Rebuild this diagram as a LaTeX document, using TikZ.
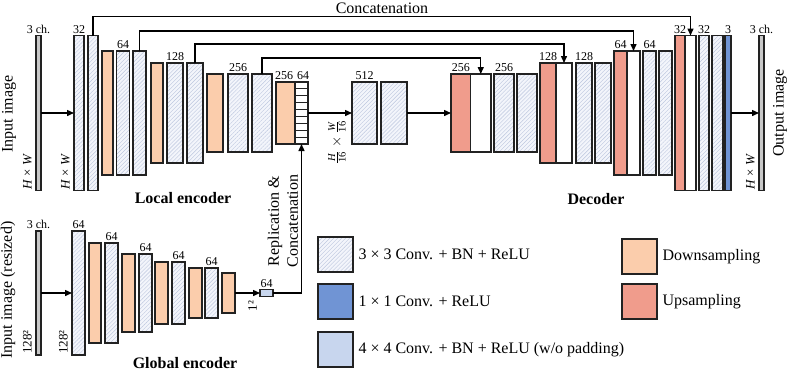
\documentclass[tikz,border=0pt]{standalone}
\usepackage{amsmath}
\usepackage{fontspec}
\setmainfont{Liberation Serif}
\usetikzlibrary{arrows.meta, positioning, patterns.meta}
\definecolor{netdown}{HTML}{FBCDAC}
\definecolor{netup}{HTML}{F09C8C}
\definecolor{netone}{HTML}{7094D4}
\definecolor{netfour}{HTML}{C8D6EE}
\definecolor{netconv}{HTML}{F3F5FB}
\definecolor{nethatch}{HTML}{BCC6DE}
\definecolor{netimg}{HTML}{C8C8C8}
\definecolor{netline}{HTML}{222222}

\begin{document}
\begin{tikzpicture}[x=1pt, y=-1pt,
  blk/.style={draw=netline, line width=1.1pt, inner sep=0pt, outer sep=0pt},
  wd/.style={minimum width=#1},
  lv1/.style={minimum height=155pt},
  lv2/.style={minimum height=124pt},
  lv3/.style={minimum height=100pt},
  lv4/.style={minimum height=78pt},
  lv5/.style={minimum height=62pt},
  lv6/.style={minimum height=50pt},
  lv7/.style={minimum height=40pt},
  conv/.style={blk, preaction={fill=netconv},
    pattern={Lines[angle=45, distance=2.8pt, line width=0.4pt]}, pattern color=nethatch},
  dsmp/.style={blk, fill=netdown},
  usmp/.style={blk, fill=netup},
  cat/.style={blk, fill=white},
  one/.style={blk, fill=netone},
  four/.style={blk, fill=netfour},
  img/.style={blk, fill=netimg},
  lab/.style={font=\fontsize{12}{12}\selectfont, inner sep=1pt},
  dim/.style={font=\fontsize{13}{13}\selectfont, inner sep=1pt, rotate=90},
  big/.style={font=\fontsize{16}{19}\selectfont},
  ttl/.style={font=\fontsize{16}{19}\selectfont\bfseries},
  arr/.style={line width=1.4pt, -{Triangle[length=7pt, width=6pt]}}]
  \useasboundingbox (0,0) rectangle (789,370);

  \node[img, lv1, wd=5pt] (inimg) at (38.5,113) {};
  \node[conv, lv1, wd=10pt] (e1a) at (79,113) {};
  \node[conv, lv1, wd=10pt] (e1b) at (93,113) {};
  \node[dsmp, lv2, wd=11pt] (d1) at (107.5,113) {};
  \node[conv, lv2, wd=12.5pt] (e2a) at (123,113) {};
  \node[conv, lv2, wd=13pt] (e2b) at (139.5,113) {};
  \node[dsmp, lv3, wd=12pt] (d2) at (157,113) {};
  \node[conv, lv3, wd=16pt] (e3a) at (175,113) {};
  \node[conv, lv3, wd=16pt] (e3b) at (195,113) {};
  \node[dsmp, lv4, wd=16pt] (d3) at (215,113) {};
  \node[conv, lv4, wd=20pt] (e4a) at (238,113) {};
  \node[conv, lv4, wd=20pt] (e4b) at (262,113) {};
  \node[dsmp, lv5, wd=19pt] (d4) at (285.5,113) {};
  \node[cat, lv5, wd=13pt] (grid) at (301.5,113) {};
  \foreach \k in {1,...,8}
    \draw[line width=0.8pt, netline] ([yshift=-\k*6.89pt]grid.north west) -- ([yshift=-\k*6.89pt]grid.north east);
  \node[conv, lv5, wd=25pt] (b1) at (364.5,113) {};
  \node[conv, lv5, wd=26pt] (b2) at (394,113) {};
  \node[usmp, lv4, wd=19.5pt] (u4) at (460.75,113) {};
  \node[cat, lv4, wd=20.5pt] (c4) at (480.75,113) {};
  \node[conv, lv4, wd=20pt] (f4a) at (504,113) {};
  \node[conv, lv4, wd=20pt] (f4b) at (527,113) {};
  \node[usmp, lv3, wd=16pt] (u3) at (548,113) {};
  \node[cat, lv3, wd=16pt] (c3) at (564,113) {};
  \node[conv, lv3, wd=16pt] (f3a) at (584,113) {};
  \node[conv, lv3, wd=16pt] (f3b) at (603,113) {};
  \node[usmp, lv2, wd=13pt] (u2) at (620.5,113) {};
  \node[cat, lv2, wd=13pt] (c2) at (633.5,113) {};
  \node[conv, lv2, wd=13pt] (f2a) at (649.5,113) {};
  \node[conv, lv2, wd=13pt] (f2b) at (665.5,113) {};
  \node[usmp, lv1, wd=10pt] (u1) at (680,113) {};
  \node[cat, lv1, wd=11pt] (c1) at (690.5,113) {};
  \node[conv, lv1, wd=10pt] (f1a) at (704,113) {};
  \node[conv, lv1, wd=11pt] (f1b) at (717.5,113) {};
  \node[one, lv1, wd=6pt] (o1) at (728,113) {};
  \node[img, lv1, wd=5pt] (outimg) at (761.5,113) {};

  \node[img, lv2, wd=5pt] (ginimg) at (38.5,293) {};
  \node[conv, lv2, wd=13pt] (g1) at (78.5,293) {};
  \node[dsmp, lv3, wd=12pt] (gd1) at (95,293) {};
  \node[conv, lv3, wd=13pt] (g2) at (111.5,293) {};
  \node[dsmp, lv4, wd=13pt] (gd2) at (128.5,293) {};
  \node[conv, lv4, wd=13pt] (g3) at (145.5,293) {};
  \node[dsmp, lv5, wd=13pt] (gd3) at (161.5,293) {};
  \node[conv, lv5, wd=13pt] (g4) at (178.5,293) {};
  \node[dsmp, lv6, wd=13pt] (gd4) at (195.5,293) {};
  \node[conv, lv6, wd=13pt] (g5) at (211.5,293) {};
  \node[dsmp, lv7, wd=13pt] (gd5) at (228.5,293) {};
  \node[four, minimum height=7pt, wd=13pt] (gfc) at (266.5,293) {};

  \foreach \n/\t in {inimg/3 ch., e1a/32, e2a/64, e3a/128, e4a/256, b1/512,
      u4/256, f4a/256, u3/128, f3a/128, u2/64, f2a/64, u1/32, f1a/32, o1/3, outimg/3 ch.,
      ginimg/3 ch., g1/64, g2/64, g3/64, g4/64, g5/64, gfc/64}
    \node[lab, above=1pt of \n] (t-\n) {\t};
  \node[lab, above=1pt of d4, xshift=-1.5pt] (t-d4) {256};
  \node[lab, above=1pt of grid, xshift=1.5pt] (t-grid) {64};

  \node[dim, anchor=south west] (hw0) at ([xshift=-3pt]inimg.south west) {\textit{H} × \textit{W}};
  \node[dim, anchor=south west] (hw1) at ([xshift=-3pt]e1a.south west) {\textit{H} × \textit{W}};
  \node[dim, anchor=south west] (hw2) at ([xshift=-3pt]outimg.south west) {\textit{H} × \textit{W}};
  \node[dim, anchor=south west] (rs0) at ([xshift=-3pt]ginimg.south west) {128²};
  \node[dim, anchor=south west] (rs1) at ([xshift=-3pt]g1.south west) {128²};
  \node[dim, anchor=south east] (rs2) at ([xshift=-2pt, yshift=-3pt]gfc.south west) {1²};
  \node[dim, font=\fontsize{15}{15}\selectfont] (hw16) at (337,142) {$\frac{\textit{H}}{\textrm{16}}\times\frac{\textit{W}}{\textrm{16}}$};

  \node[big, rotate=90] (inlab) at (9,114) {Input image};
  \node[big, rotate=90] (outlab) at (780,113) {Output image};
  \node[big, rotate=90] (ginlab) at (8,290) {Input image (resized)};
  \node[big, rotate=90, align=center] (rep) at (283,221) {Replication \&\\Concatenation};
  \node[big, anchor=base] (cattxt) at (382,13) {Concatenation};
  \node[ttl, anchor=base] (lenc) at (183,203) {Local encoder};
  \node[ttl, anchor=base] (dec) at (596,204) {Decoder};
  \node[ttl, anchor=base] (genc) at (185,368) {Global encoder};

  \draw[arr] (inimg) -- (e1a);
  \draw[arr] (grid) -- (b1);
  \draw[arr] (b2) -- (u4);
  \draw[arr] (o1) -- (outimg);
  \draw[arr] (ginimg) -- (g1);
  \draw[arr] (gd5) -- (gfc);
  \draw[arr] (gfc.east) -| (grid.south);
  \draw[arr] (e1b.north) -- ++(0,-19) -| (c1.north);
  \draw[arr] (e2b.north) -- ++(0,-20) -| (c2.north);
  \draw[arr] (e3b.north) -- ++(0,-19) -| (c3.north);
  \draw[arr] (e4b.north) -- ++(0,-16) -| (c4.north);

  \node[conv, minimum size=35pt] (lg1) at (335.5,254.5) {};
  \node[one, minimum size=35pt] (lg2) at (335.5,301.5) {};
  \node[four, minimum size=35pt] (lg3) at (335.5,349.5) {};
  \node[dsmp, minimum size=35pt] (lg4) at (639.5,256.5) {};
  \node[usmp, minimum size=35pt] (lg5) at (639.5,301.5) {};
  \node[big, right=2pt of lg1] (lt1) {3 × 3 Conv. + BN + ReLU};
  \node[big, right=2pt of lg2] (lt2) {1 × 1 Conv. + ReLU};
  \node[big, right=2pt of lg3] (lt3) {4 × 4 Conv. + BN + ReLU (w/o padding)};
  \node[big, right=2pt of lg4] (lt4) {Downsampling};
  \node[big, right=2pt of lg5] (lt5) {Upsampling};
\end{tikzpicture}
\end{document}
